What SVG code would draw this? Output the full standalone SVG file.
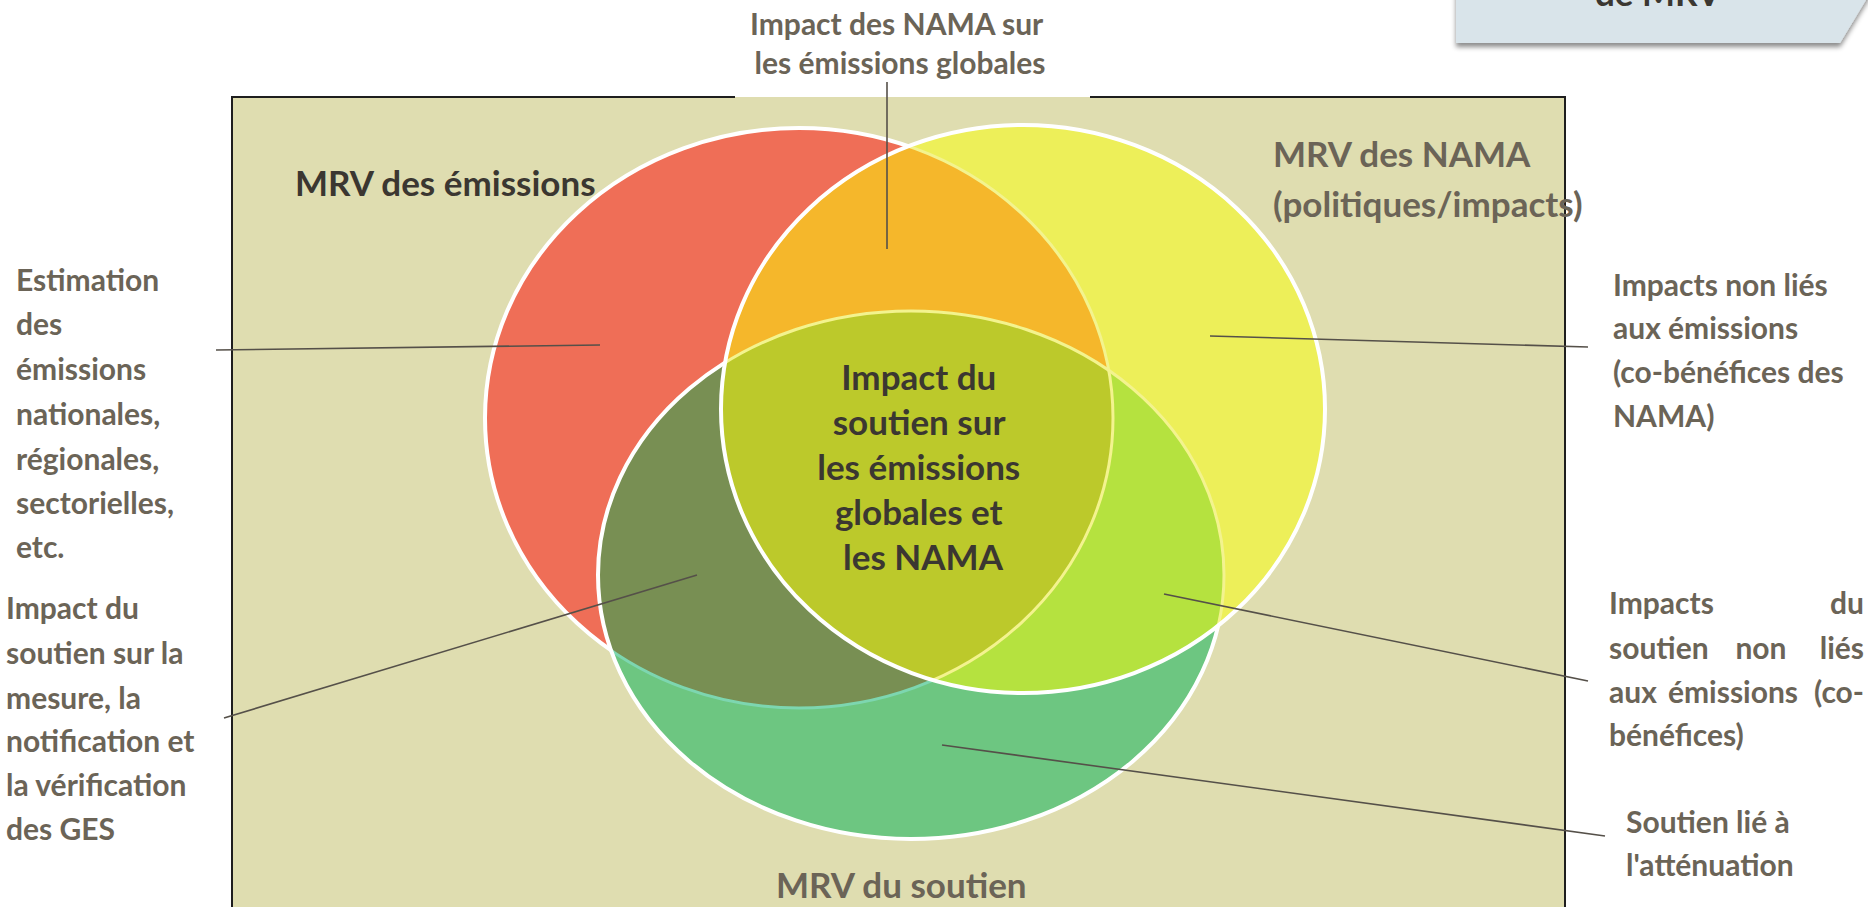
<svg xmlns="http://www.w3.org/2000/svg" width="1868" height="907" viewBox="0 0 1868 907">
<defs>
<style>
.lbl{font-family:Lato,'Open Sans',sans-serif;font-weight:700;font-size:30px;fill:#6b6457}
.ttl{font-family:Lato,'Open Sans',sans-serif;font-weight:700;font-size:35px;fill:#6b6457}
.dark{fill:#3b3731}
.ctr{font-family:Lato,'Open Sans',sans-serif;font-weight:700;font-size:35px;fill:#3b3731;text-anchor:middle}
.conn{stroke:#555049;stroke-width:1.6;fill:none}
.wo{fill:none;stroke:#fff;stroke-width:4}
.iy{fill:none;stroke:#f3f38e;stroke-width:3}
.ig{fill:none;stroke:#7dd6b0;stroke-width:3}
.frame{stroke:#1e1e1e;stroke-width:2;fill:none}
</style>
<clipPath id="cR"><ellipse cx="799" cy="418" rx="314" ry="290"/></clipPath>
<clipPath id="cG"><ellipse cx="911" cy="575" rx="313" ry="264"/></clipPath>
<clipPath id="cY"><ellipse cx="1023" cy="409" rx="302" ry="284"/></clipPath>
<filter id="sh" x="-5%" y="-50%" width="110%" height="220%"><feDropShadow dx="0" dy="4" stdDeviation="2.5" flood-color="#000" flood-opacity="0.45"/></filter>
</defs>
<rect width="1868" height="907" fill="#fff"/>

<g id="title-box">
<polygon points="1456,-10 1872,-10 1840,43 1456,43" fill="#d9e4ea" filter="url(#sh)"/>
<text x="1658" y="6" class="ttl dark" text-anchor="middle" font-size="38">de MRV</text>
</g>

<g id="frame">
<rect x="232" y="97" width="1333" height="830" fill="#dfddb0"/>
<line class="frame" x1="232" y1="97" x2="232" y2="907"/>
<line class="frame" x1="1565" y1="97" x2="1565" y2="907"/>
<line class="frame" x1="231" y1="97" x2="735" y2="97"/>
<line class="frame" x1="1090" y1="97" x2="1566" y2="97"/>
</g>

<g id="venn-emissions">
<ellipse cx="799" cy="418" rx="314" ry="290" class="wo" style="fill:#ef6e57"/>
</g>

<g id="venn-soutien">
<ellipse cx="911" cy="575" rx="313" ry="264" style="fill:#6dc681"/>
<g clip-path="url(#cR)"><ellipse cx="911" cy="575" rx="313" ry="264" fill="#788f53"/></g>
<g clip-path="url(#cG)"><ellipse class="ig" cx="799" cy="418" rx="314" ry="290"/></g>
<ellipse class="wo" cx="911" cy="575" rx="313" ry="264"/>
</g>

<g id="venn-nama">
<ellipse cx="1023" cy="409" rx="302" ry="284" fill="#edef59"/>
<g clip-path="url(#cR)"><ellipse cx="1023" cy="409" rx="302" ry="284" fill="#f5b72b"/></g>
<g clip-path="url(#cG)"><ellipse cx="1023" cy="409" rx="302" ry="284" fill="#b5e23f"/></g>
<g clip-path="url(#cG)"><g clip-path="url(#cR)"><ellipse cx="1023" cy="409" rx="302" ry="284" fill="#bcc92b"/></g></g>
<g clip-path="url(#cY)">
<ellipse class="iy" cx="799" cy="418" rx="314" ry="290"/>
<ellipse class="iy" cx="911" cy="575" rx="313" ry="264"/>
</g>
<ellipse class="wo" cx="1023" cy="409" rx="302" ry="284"/>
</g>

<g id="connectors">
<line class="conn" x1="887" y1="82" x2="887" y2="249"/>
<line class="conn" x1="216" y1="350" x2="600" y2="345"/>
<line class="conn" x1="224" y1="718" x2="697" y2="575"/>
<line class="conn" x1="1210" y1="336" x2="1588" y2="347"/>
<line class="conn" x1="1164" y1="594" x2="1588" y2="681"/>
<line class="conn" x1="942" y1="745" x2="1605" y2="836"/>
</g>

<g id="label-emissions"><text class="ttl dark" x="295" y="196">MRV des émissions</text></g>
<g id="label-nama"><text class="ttl"><tspan x="1273" y="167">MRV des NAMA</tspan><tspan x="1273" y="217">(politiques/impacts)</tspan></text></g>
<g id="label-soutien"><text class="ttl" x="776" y="898">MRV du soutien</text></g>

<g id="label-center"><text class="ctr">
<tspan x="923" y="390">Impact du</tspan>
<tspan x="923" y="435">soutien sur</tspan>
<tspan x="923" y="480">les émissions</tspan>
<tspan x="923" y="525">globales et</tspan>
<tspan x="923" y="570">les NAMA</tspan>
</text></g>

<g id="label-nama-global"><text class="lbl" text-anchor="middle">
<tspan x="900" y="35">Impact des NAMA sur</tspan>
<tspan x="900" y="74">les émissions globales</tspan>
</text></g>

<g id="label-estimation"><text class="lbl">
<tspan x="16" y="291">Estimation</tspan>
<tspan x="16" y="335">des</tspan>
<tspan x="16" y="380">émissions</tspan>
<tspan x="16" y="425">nationales,</tspan>
<tspan x="16" y="470">régionales,</tspan>
<tspan x="16" y="514">sectorielles,</tspan>
<tspan x="16" y="558">etc.</tspan>
</text></g>

<g id="label-mrv-ges"><text class="lbl">
<tspan x="6" y="619">Impact du</tspan>
<tspan x="6" y="664">soutien sur la</tspan>
<tspan x="6" y="709">mesure, la</tspan>
<tspan x="6" y="752">notification et</tspan>
<tspan x="6" y="796">la vérification</tspan>
<tspan x="6" y="840">des GES</tspan>
</text></g>

<g id="label-cobenefices-nama"><text class="lbl">
<tspan x="1613" y="296">Impacts non liés</tspan>
<tspan x="1613" y="339">aux émissions</tspan>
<tspan x="1613" y="383">(co-bénéfices des</tspan>
<tspan x="1613" y="427">NAMA)</tspan>
</text></g>

<g id="label-cobenefices-soutien">
<text class="lbl" x="1609" y="614">Impacts</text>
<text class="lbl" x="1864" y="614" text-anchor="end">du</text>
<text class="lbl" x="1609" y="659">soutien</text>
<text class="lbl" x="1761" y="659" text-anchor="middle">non</text>
<text class="lbl" x="1864" y="659" text-anchor="end">liés</text>
<text class="lbl" x="1609" y="703">aux</text>
<text class="lbl" x="1733" y="703" text-anchor="middle">émissions</text>
<text class="lbl" x="1864" y="703" text-anchor="end">(co-</text>
<text class="lbl" x="1609" y="746">bénéfices)</text>
</g>

<g id="label-attenuation"><text class="lbl">
<tspan x="1626" y="833">Soutien lié à</tspan>
<tspan x="1626" y="876">l'atténuation</tspan>
</text></g>
</svg>
